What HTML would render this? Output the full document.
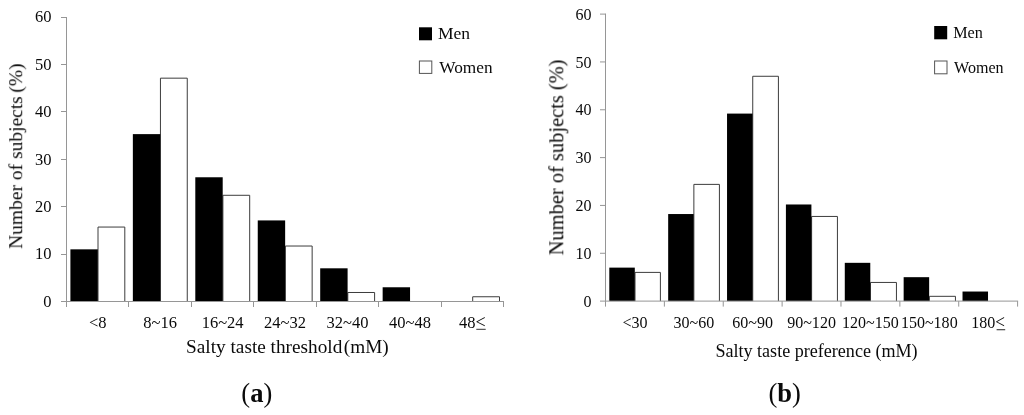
<!DOCTYPE html>
<html><head><meta charset="utf-8"><title>Figure</title>
<style>
html,body{margin:0;padding:0;background:#fff;}
body{width:1024px;height:415px;overflow:hidden;}
svg{display:block;font-family:"Liberation Serif",serif;fill:#0a0a0a;}
svg .c{shape-rendering:crispEdges;}
svg text{filter:blur(0.3px);}
</style></head><body>
<svg width="1024" height="415" viewBox="0 0 1024 415">
<rect x="0" y="0" width="1024" height="415" fill="#fff"/>
<path d="M98 301.5V227.06H124.8V301.5" fill="#fff" stroke="#3c3c3c" stroke-width="1"/>
<rect x="70.4" y="249.34" width="27.4" height="52.16" fill="#000"/>
<path d="M160.45 301.5V78.17H187.25V301.5" fill="#fff" stroke="#3c3c3c" stroke-width="1"/>
<rect x="132.85" y="134.12" width="27.4" height="167.38" fill="#000"/>
<path d="M222.9 301.5V195.29H249.7V301.5" fill="#fff" stroke="#3c3c3c" stroke-width="1"/>
<rect x="195.3" y="177.27" width="27.4" height="124.23" fill="#000"/>
<path d="M285.35 301.5V246.02H312.15V301.5" fill="#fff" stroke="#3c3c3c" stroke-width="1"/>
<rect x="257.75" y="220.42" width="27.4" height="81.08" fill="#000"/>
<path d="M347.8 301.5V292.49H374.6V301.5" fill="#fff" stroke="#3c3c3c" stroke-width="1"/>
<rect x="320.2" y="268.31" width="27.4" height="33.19" fill="#000"/>
<rect x="382.65" y="287.27" width="27.4" height="14.22" fill="#000"/>
<path d="M472.7 301.5V296.76H499.5V301.5" fill="#fff" stroke="#3c3c3c" stroke-width="1"/>
<rect x="66" y="16.5" width="1" height="285.5" fill="#969696" class="c"/>
<rect x="66" y="301" width="438.15" height="1" fill="#969696" class="c"/>
<rect x="61" y="301" width="5.5" height="1" fill="#969696" class="c"/>
<text transform="translate(51.5 306.9)" font-size="16.5" text-anchor="end">0</text>
<rect x="61" y="253.58" width="5.5" height="1" fill="#969696" class="c"/>
<text transform="translate(51.5 259.48)" font-size="16.5" text-anchor="end">10</text>
<rect x="61" y="206.17" width="5.5" height="1" fill="#969696" class="c"/>
<text transform="translate(51.5 212.07)" font-size="16.5" text-anchor="end">20</text>
<rect x="61" y="158.75" width="5.5" height="1" fill="#969696" class="c"/>
<text transform="translate(51.5 164.65)" font-size="16.5" text-anchor="end">30</text>
<rect x="61" y="111.33" width="5.5" height="1" fill="#969696" class="c"/>
<text transform="translate(51.5 117.23)" font-size="16.5" text-anchor="end">40</text>
<rect x="61" y="63.92" width="5.5" height="1" fill="#969696" class="c"/>
<text transform="translate(51.5 69.82)" font-size="16.5" text-anchor="end">50</text>
<rect x="61" y="16.5" width="5.5" height="1" fill="#969696" class="c"/>
<text transform="translate(51.5 22.4)" font-size="16.5" text-anchor="end">60</text>
<rect x="66" y="301.5" width="1" height="5.5" fill="#969696" class="c"/>
<rect x="128.45" y="301.5" width="1" height="5.5" fill="#969696" class="c"/>
<rect x="190.9" y="301.5" width="1" height="5.5" fill="#969696" class="c"/>
<rect x="253.35" y="301.5" width="1" height="5.5" fill="#969696" class="c"/>
<rect x="315.8" y="301.5" width="1" height="5.5" fill="#969696" class="c"/>
<rect x="378.25" y="301.5" width="1" height="5.5" fill="#969696" class="c"/>
<rect x="440.7" y="301.5" width="1" height="5.5" fill="#969696" class="c"/>
<rect x="503.15" y="301.5" width="1" height="5.5" fill="#969696" class="c"/>
<text transform="translate(97.72 327.8)" font-size="16.5" text-anchor="middle">&lt;8</text>
<text transform="translate(160.18 327.8)" font-size="16.5" text-anchor="middle">8~16</text>
<text transform="translate(222.62 327.8)" font-size="16.5" text-anchor="middle">16~24</text>
<text transform="translate(285.08 327.8)" font-size="16.5" text-anchor="middle">24~32</text>
<text transform="translate(347.53 327.8)" font-size="16.5" text-anchor="middle">32~40</text>
<text transform="translate(409.98 327.8)" font-size="16.5" text-anchor="middle">40~48</text>
<text transform="translate(472.43 327.8)" font-size="16.5" text-anchor="middle">48<tspan font-size="18" dy="0.3">&lt;</tspan></text>
<rect x="419" y="27.3" width="13" height="13" fill="#000"/>
<rect x="419.4" y="61" width="12.4" height="12.4" fill="#fff" stroke="#555" stroke-width="1"/>
<text transform="translate(438 38.9) scale(1.05 1.0)" font-size="16.7" text-anchor="start">Men</text>
<text transform="translate(439.3 72.6) scale(1.035 1.0)" font-size="16.7" text-anchor="start">Women</text>
<text transform="translate(287.4 352.6) scale(1.004 1.0)" font-size="19.2" text-anchor="middle">Salty taste threshold<tspan dx="1.5">(mM)</tspan></text>
<text transform="translate(22.2 156.2) rotate(-90)" font-size="19.5" text-anchor="middle">Number of subjects<tspan dx="3.6">(%)</tspan></text>
<text transform="translate(256.8 402.3)" font-size="26.5" text-anchor="middle">(<tspan font-weight="bold">a</tspan>)</text>
<rect x="476.3" y="328.8" width="9.4" height="1" fill="#333"/>
<path d="M635 301.1V272.4H660.4V301.1" fill="#fff" stroke="#3c3c3c" stroke-width="1"/>
<rect x="609.3" y="267.62" width="25.5" height="33.48" fill="#000"/>
<path d="M693.87 301.1V184.39H719.41V301.1" fill="#fff" stroke="#3c3c3c" stroke-width="1"/>
<rect x="668.17" y="214.04" width="25.5" height="87.06" fill="#000"/>
<path d="M752.74 301.1V76.28H778.42V301.1" fill="#fff" stroke="#3c3c3c" stroke-width="1"/>
<rect x="727.04" y="113.59" width="25.5" height="187.51" fill="#000"/>
<path d="M811.61 301.1V216.44H837.43V301.1" fill="#fff" stroke="#3c3c3c" stroke-width="1"/>
<rect x="785.91" y="204.48" width="25.5" height="96.62" fill="#000"/>
<path d="M870.48 301.1V282.45H896.44V301.1" fill="#fff" stroke="#3c3c3c" stroke-width="1"/>
<rect x="844.78" y="262.83" width="25.5" height="38.27" fill="#000"/>
<path d="M929.35 301.1V296.32H955.45V301.1" fill="#fff" stroke="#3c3c3c" stroke-width="1"/>
<rect x="903.65" y="277.18" width="25.5" height="23.92" fill="#000"/>
<rect x="962.52" y="291.53" width="25.5" height="9.57" fill="#000"/>
<rect x="605" y="13.6" width="1" height="288" fill="#969696"/>
<rect x="605" y="300.6" width="413.09" height="1" fill="#969696"/>
<rect x="600" y="300.6" width="5.5" height="1" fill="#969696"/>
<text transform="translate(591.6 306.8) scale(0.905 1.0)" font-size="17.7" text-anchor="end">0</text>
<rect x="600" y="252.77" width="5.5" height="1" fill="#969696"/>
<text transform="translate(591.6 258.97) scale(0.905 1.0)" font-size="17.7" text-anchor="end">10</text>
<rect x="600" y="204.93" width="5.5" height="1" fill="#969696"/>
<text transform="translate(591.6 211.13) scale(0.905 1.0)" font-size="17.7" text-anchor="end">20</text>
<rect x="600" y="157.1" width="5.5" height="1" fill="#969696"/>
<text transform="translate(591.6 163.3) scale(0.905 1.0)" font-size="17.7" text-anchor="end">30</text>
<rect x="600" y="109.27" width="5.5" height="1" fill="#969696"/>
<text transform="translate(591.6 115.47) scale(0.905 1.0)" font-size="17.7" text-anchor="end">40</text>
<rect x="600" y="61.43" width="5.5" height="1" fill="#969696"/>
<text transform="translate(591.6 67.63) scale(0.905 1.0)" font-size="17.7" text-anchor="end">50</text>
<rect x="600" y="13.6" width="5.5" height="1" fill="#969696"/>
<text transform="translate(591.6 19.8) scale(0.905 1.0)" font-size="17.7" text-anchor="end">60</text>
<rect x="605" y="301.1" width="1" height="5.5" fill="#969696"/>
<rect x="663.87" y="301.1" width="1" height="5.5" fill="#969696"/>
<rect x="722.74" y="301.1" width="1" height="5.5" fill="#969696"/>
<rect x="781.61" y="301.1" width="1" height="5.5" fill="#969696"/>
<rect x="840.48" y="301.1" width="1" height="5.5" fill="#969696"/>
<rect x="899.35" y="301.1" width="1" height="5.5" fill="#969696"/>
<rect x="958.22" y="301.1" width="1" height="5.5" fill="#969696"/>
<rect x="1017.09" y="301.1" width="1" height="5.5" fill="#969696"/>
<text transform="translate(634.93 327.9) scale(0.905 1.0)" font-size="17.7" text-anchor="middle">&lt;30</text>
<text transform="translate(693.8 327.9) scale(0.905 1.0)" font-size="17.7" text-anchor="middle">30~60</text>
<text transform="translate(752.67 327.9) scale(0.905 1.0)" font-size="17.7" text-anchor="middle">60~90</text>
<text transform="translate(811.54 327.9) scale(0.905 1.0)" font-size="17.7" text-anchor="middle">90~120</text>
<text transform="translate(870.41 327.9) scale(0.905 1.0)" font-size="17.7" text-anchor="middle">120~150</text>
<text transform="translate(929.28 327.9) scale(0.905 1.0)" font-size="17.7" text-anchor="middle">150~180</text>
<text transform="translate(988.15 327.9) scale(0.905 1.0)" font-size="17.7" text-anchor="middle">180<tspan font-size="19" dy="0.3">&lt;</tspan></text>
<rect x="996.6" y="329" width="8.6" height="1.3" fill="#555"/>
<rect x="934.2" y="26" width="13" height="13.3" fill="#000"/>
<rect x="934.6" y="61" width="12.4" height="12.8" fill="#fff" stroke="#555" stroke-width="1"/>
<text transform="translate(953.2 37.6) scale(0.975 1.0)" font-size="16.6" text-anchor="start">Men</text>
<text transform="translate(954 72.6) scale(0.97 1.0)" font-size="16.6" text-anchor="start">Women</text>
<text transform="translate(816.5 356.9) scale(0.942 1.03)" font-size="19.2" text-anchor="middle">Salty taste preference (mM)</text>
<text transform="translate(563.3 157.4) rotate(-90)" font-size="20.45" text-anchor="middle">Number of subjects (%)</text>
<text transform="translate(784.6 402.3)" font-size="26.5" text-anchor="middle">(<tspan font-weight="bold">b</tspan>)</text>
</svg>
</body></html>
